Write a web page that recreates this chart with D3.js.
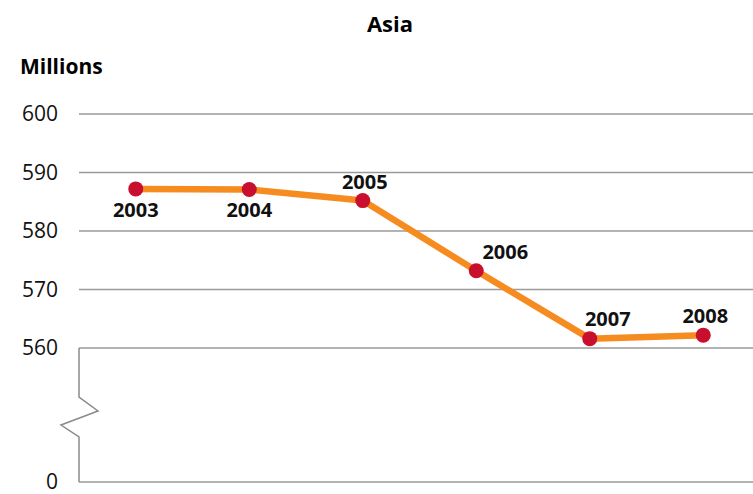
<!DOCTYPE html>
<html>
<head>
<meta charset="utf-8">
<script src="https://cdn.jsdelivr.net/npm/d3@7"></script>
<style>
  body { margin: 0; background: #fff; }
  svg { display: block; font-family: "Open Sans", "Noto Sans", sans-serif; }
</style>
</head>
<body>
<div id="chart"></div>
<script>
// data
const years = ["2003", "2004", "2005", "2006", "2007", "2008"];
const values = [587.2, 587.1, 585.2, 573.2, 561.6, 562.2];
const labelPlace = ["below", "below", "above", "aboveRight", "aboveNear", "above"];
const yTicks = [560, 570, 580, 590, 600];

const width = 753;
const height = 494;
const axisX = 79;
const zeroY = 482;

const svg = d3.select("#chart")
  .append("svg")
  .attr("width", width)
  .attr("height", height);

const x = d3.scalePoint()
  .domain(years)
  .range([axisX, 760])
  .padding(0.5);

const y = d3.scaleLinear()
  .domain([560, 600])
  .range([348, 114]);

// title + unit
svg.append("text")
  .attr("x", 390)
  .attr("y", 32)
  .attr("text-anchor", "middle")
  .style("font-size", "22px")
  .style("font-weight", "bold")
  .text("Asia");

svg.append("text")
  .attr("x", 20)
  .attr("y", 74)
  .style("font-size", "21px")
  .style("font-weight", "bold")
  .text("Millions");

// gridlines
const grid = svg.append("g");
grid.selectAll("line")
  .data(yTicks)
  .enter()
  .append("line")
  .attr("x1", axisX)
  .attr("x2", width)
  .attr("y1", d => y(d))
  .attr("y2", d => y(d))
  .attr("stroke", "#9a9a9a")
  .attr("stroke-width", 1.5);

grid.selectAll("text")
  .data(yTicks)
  .enter()
  .append("text")
  .attr("x", 58)
  .attr("y", d => y(d))
  .attr("dy", "0.35em")
  .attr("text-anchor", "end")
  .style("font-size", "21px")
  .style("fill", "#111")
  .text(d => d);

// zero line and broken axis
svg.append("line")
  .attr("x1", axisX)
  .attr("x2", width)
  .attr("y1", zeroY)
  .attr("y2", zeroY)
  .attr("stroke", "#9a9a9a")
  .attr("stroke-width", 1.5);

svg.append("text")
  .attr("x", 58)
  .attr("y", zeroY)
  .attr("dy", "0.35em")
  .attr("text-anchor", "end")
  .style("font-size", "21px")
  .style("fill", "#111")
  .text("0");

const breakPath = [
  [axisX, y(560)], [axisX, 397], [98, 411], [61, 425], [axisX, 437], [axisX, zeroY]
];
svg.append("path")
  .attr("d", d3.line()(breakPath))
  .attr("fill", "none")
  .attr("stroke", "#8a8a8a")
  .attr("stroke-width", 1.5);

// series
const data = years.map((yr, i) => ({ year: yr, value: values[i], place: labelPlace[i] }));

svg.append("path")
  .datum(data)
  .attr("d", d3.line().x(d => x(d.year)).y(d => y(d.value)))
  .attr("fill", "none")
  .attr("stroke", "#f68b1f")
  .attr("stroke-width", 6.5)
  .attr("stroke-linejoin", "round");

svg.selectAll("circle.pt")
  .data(data)
  .enter()
  .append("circle")
  .attr("class", "pt")
  .attr("cx", d => x(d.year))
  .attr("cy", d => y(d.value))
  .attr("r", 7.5)
  .attr("fill", "#c8102e");

const off = {
  below: [0, 28],
  above: [2, -12],
  aboveRight: [29, -12],
  aboveNear: [18, -13]
};

svg.selectAll("text.lbl")
  .data(data)
  .enter()
  .append("text")
  .attr("class", "lbl")
  .attr("x", d => x(d.year) + off[d.place][0])
  .attr("y", d => y(d.value) + off[d.place][1])
  .attr("text-anchor", "middle")
  .style("font-size", "20px")
  .style("font-weight", "bold")
  .style("fill", "#111")
  .text(d => d.year);
</script>
</body>
</html>
